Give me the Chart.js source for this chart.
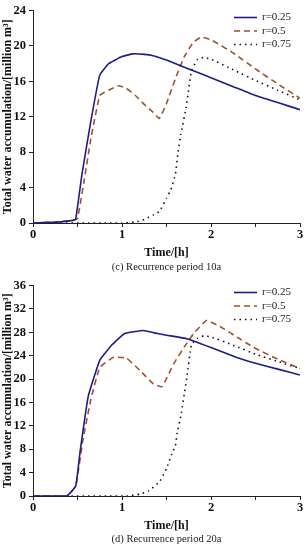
<!DOCTYPE html>
<html>
<head>
<meta charset="utf-8">
<script src="https://cdn.jsdelivr.net/npm/chart.js@4.4.1/dist/chart.umd.min.js"></script>
<style>
  body { margin: 0; background: #fff; width: 308px; height: 550px; position: relative; overflow: hidden; }
  .box { position: absolute; left: 0; width: 308px; }
  .caption { position: absolute; left: 33px; width: 267px; text-align: center;
             font: 10.5px "Liberation Serif", serif; color: #222; line-height: 12px; }
</style>
</head>
<body>
<div class="box" style="top:0;height:262px"><canvas id="chart_10a"></canvas></div>
<div class="caption" style="top:261px">(c) Recurrence period 10a</div>
<div class="box" style="top:275px;height:260px"><canvas id="chart_20a"></canvas></div>
<div class="caption" style="top:533px">(d) Recurrence period 20a</div>
<script>
const seriesLabels = ['r=0.25', 'r=0.5', 'r=0.75'];

// recurrence period 10a
const time10_025 = [0, 0.25, 0.45, 0.48, 0.55, 0.65, 0.75, 0.85, 1.0, 1.12, 1.25, 1.35, 1.5, 1.75, 2.0, 2.25, 2.5, 2.75, 3.0];
const water10_025 = [0, 0.1, 0.3, 0.45, 5.5, 11.5, 16.7, 18.0, 18.8, 19.1, 19.05, 18.9, 18.4, 17.4, 16.4, 15.4, 14.4, 13.6, 12.8];
const time10_05 = [0, 0.25, 0.45, 0.5, 0.57, 0.65, 0.75, 0.85, 0.96, 1.05, 1.15, 1.25, 1.35, 1.42, 1.5, 1.6, 1.7, 1.8, 1.89, 2.0, 2.25, 2.5, 2.75, 3.0];
const water10_05 = [0, 0.1, 0.3, 0.5, 4.5, 9.5, 14.4, 15.0, 15.5, 15.2, 14.4, 13.4, 12.5, 11.8, 13.5, 16.3, 18.8, 20.4, 21.0, 20.7, 19.2, 17.4, 15.7, 14.1];
const time10_075 = [0, 1.0, 1.15, 1.25, 1.35, 1.42, 1.5, 1.55, 1.6, 1.63, 1.66, 1.72, 1.78, 1.85, 1.92, 2.0, 2.25, 2.5, 2.75, 3.0];
const water10_075 = [0, 0, 0.1, 0.4, 0.9, 1.3, 2.8, 3.8, 5.5, 8.0, 10.0, 13.0, 17.2, 18.5, 18.7, 18.5, 17.3, 16.1, 15.0, 13.9];

// recurrence period 20a
const time20_025 = [0, 0.38, 0.48, 0.53, 0.62, 0.75, 0.89, 1.03, 1.24, 1.36, 1.5, 1.73, 2.0, 2.29, 2.5, 2.75, 3.0];
const water20_025 = [0, 0, 1.7, 7.7, 17.0, 23.2, 25.9, 27.8, 28.3, 27.9, 27.5, 26.9, 25.4, 23.7, 22.7, 21.7, 20.7];
const time20_05 = [0, 0.38, 0.48, 0.56, 0.65, 0.75, 0.9, 1.05, 1.2, 1.35, 1.45, 1.58, 1.7, 1.81, 1.95, 2.1, 2.3, 2.48, 2.75, 3.0];
const water20_05 = [0, 0, 1.7, 9.5, 16.5, 22.0, 23.7, 23.6, 21.5, 19.2, 18.7, 22.6, 25.5, 27.9, 30.0, 29.0, 27.1, 25.4, 23.4, 21.8];
const time20_075 = [0, 1.05, 1.2, 1.3, 1.42, 1.5, 1.56, 1.6, 1.62, 1.66, 1.73, 1.78, 1.85, 1.92, 2.0, 2.25, 2.51, 2.75, 3.0];
const water20_075 = [0, 0, 0.3, 0.9, 2.4, 4.7, 7.2, 8.6, 10.8, 13.6, 20.4, 25.9, 27.0, 27.4, 27.2, 25.8, 24.2, 23.0, 21.8];

const xTicks = [0, 1, 2, 3];
const serif = '"Liberation Serif", "Times New Roman", serif';

// zip time + value arrays into points
function toPoints(times, values) {
    return times.map((t, i) => ({ x: t, y: values[i] }));
}

// line styles for the three r values
const lineStyles = [
    { borderColor: '#1c1c8e', borderWidth: 1.6, borderDash: [] },
    { borderColor: '#a0522d', borderWidth: 1.6, borderDash: [6, 4] },
    { borderColor: '#111111', borderWidth: 1.6, borderDash: [1.5, 4] }
];

// legend drawn in the top right corner of the plot area
const cornerLegend = {
    id: 'cornerLegend',
    afterDatasetsDraw(chart) {
        const ctx = chart.ctx;
        const area = chart.chartArea;
        ctx.save();
        chart.data.datasets.forEach((ds, i) => {
            const y = area.top + 7 + i * 13.5;
            ctx.beginPath();
            ctx.strokeStyle = ds.borderColor;
            ctx.lineWidth = ds.borderWidth;
            ctx.setLineDash(ds.borderDash);
            ctx.moveTo(area.right - 66, y);
            ctx.lineTo(area.right - 43, y);
            ctx.stroke();
            ctx.setLineDash([]);
            ctx.fillStyle = '#222';
            ctx.font = '11px ' + serif;
            ctx.textBaseline = 'middle';
            ctx.textAlign = 'left';
            ctx.fillText(ds.label, area.right - 38, y);
        });
        ctx.restore();
    }
};

function makeChart(canvasId, seriesTimes, seriesValues, yMax) {
    new Chart(document.getElementById(canvasId), {
        type: 'line',
        data: {
            datasets: seriesLabels.map((label, i) => ({
                label: label,
                data: toPoints(seriesTimes[i], seriesValues[i]),
                borderColor: lineStyles[i].borderColor,
                borderWidth: lineStyles[i].borderWidth,
                borderDash: lineStyles[i].borderDash,
                pointRadius: 0,
                tension: 0.1,
                fill: false
            }))
        },
        options: {
            responsive: true,
            maintainAspectRatio: false,
            animation: false,
            layout: { padding: { top: 7, right: 8, bottom: 0, left: 0 } },
            plugins: { legend: { display: false }, tooltip: { enabled: false } },
            scales: {
                x: {
                    type: 'linear',
                    min: 0,
                    max: 3,
                    afterBuildTicks: axis => { axis.ticks = [0, 0.5, 1, 1.5, 2, 2.5, 3].map(v => ({ value: v })); },
                    afterFit: axis => { axis.height = 39; },
                    border: { color: '#222', width: 1 },
                    grid: { drawOnChartArea: false, tickLength: 4, color: '#222' },
                    ticks: {
                        padding: 0,
                        color: '#111',
                        font: { family: serif, size: 12.5, weight: 'bold' },
                        callback: v => xTicks.includes(v) ? v : ''
                    },
                    title: {
                        display: true,
                        text: 'Time/[h]',
                        color: '#111',
                        font: { family: serif, size: 12, weight: 'bold' },
                        padding: { top: 0, bottom: 2 }
                    }
                },
                y: {
                    min: 0,
                    max: yMax,
                    afterFit: axis => { axis.width = 33; },
                    border: { color: '#222', width: 1 },
                    grid: { drawOnChartArea: false, tickLength: 4, color: '#222' },
                    ticks: {
                        stepSize: 2,
                        padding: 3,
                        color: '#111',
                        font: { family: serif, size: 12.5, weight: 'bold' },
                        callback: v => v % 4 === 0 ? v : ''
                    },
                    title: {
                        display: true,
                        text: 'Total water accumulation/[million m³]',
                        color: '#111',
                        font: { family: serif, size: 12, weight: 'bold' },
                        padding: { top: 1, bottom: 0 }
                    }
                }
            }
        },
        plugins: [cornerLegend]
    });
}

makeChart('chart_10a', [time10_025, time10_05, time10_075], [water10_025, water10_05, water10_075], 24);
makeChart('chart_20a', [time20_025, time20_05, time20_075], [water20_025, water20_05, water20_075], 36);
</script>
</body>
</html>
